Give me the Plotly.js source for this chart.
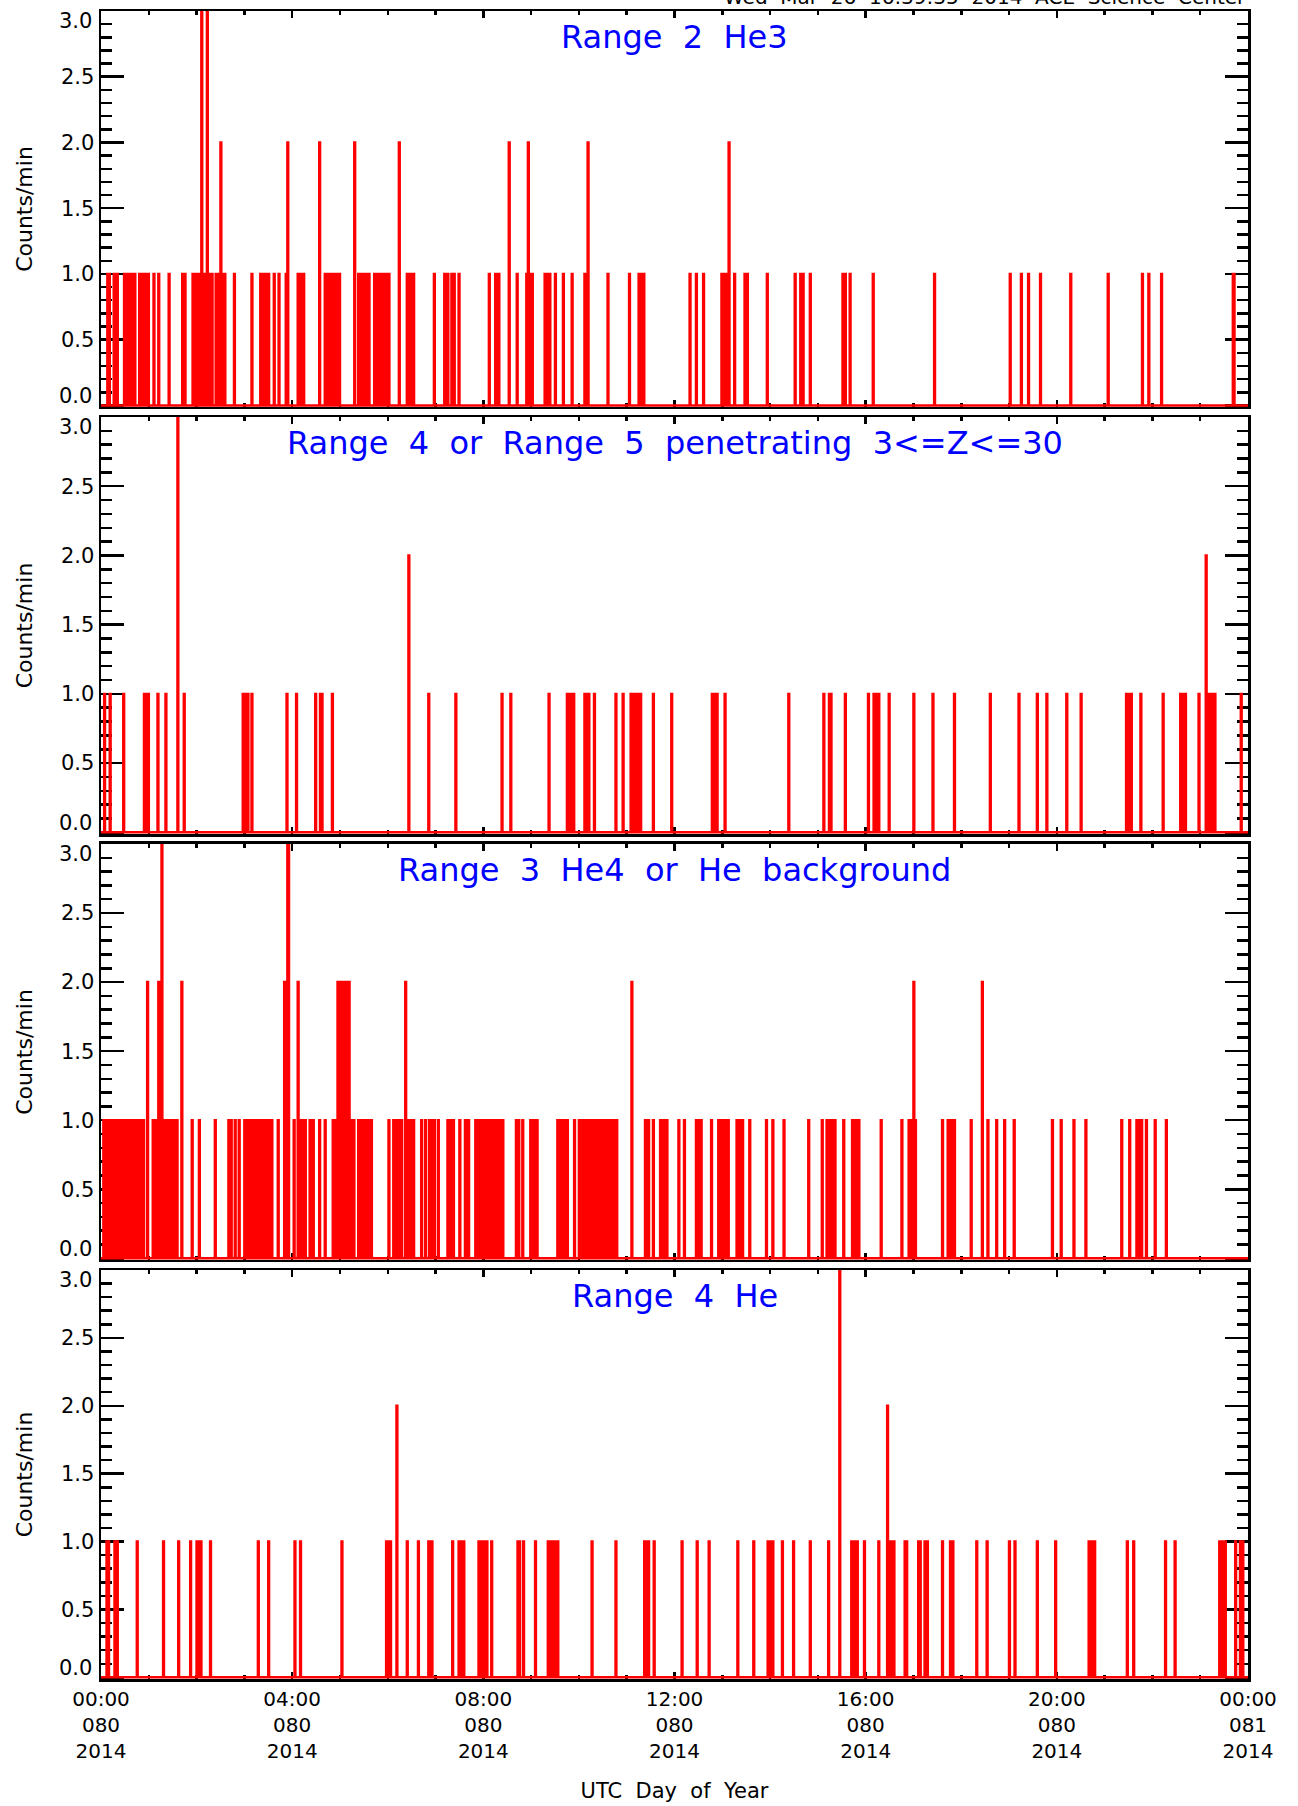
<!DOCTYPE html>
<html>
<head>
<meta charset="utf-8">
<script src="https://cdn.plot.ly/plotly-3.0.1.min.js"></script>
<style>html,body{margin:0;padding:0;background:#fff;}</style>
</head>
<body>
<div id="chart" style="width:1298px;height:1806px;"></div>
<script>
// ---------------- DATA (minute of UTC day 080, 2014; counts/min) ----------------
const panelTitles = [
  'Range\u00a0 2\u00a0 He3',
  'Range\u00a0 4\u00a0 or\u00a0 Range\u00a0 5\u00a0 penetrating\u00a0 3<=Z<=30',
  'Range\u00a0 3\u00a0 He4\u00a0 or\u00a0 He\u00a0 background',
  'Range\u00a0 4\u00a0 He'
];

// Range 2 He3
const he3Ones = [8,10,16,20,29,31,34,36,38,42,48,50,53,55,57,59,66,72,85,102,105,115,117,120,122,124,128,131,135,137,139,144,146,148,153,155,167,189,200,203,206,208,210,217,223,232,247,249,252,254,281,284,287,290,294,297,299,323,326,329,332,336,343,346,349,352,354,357,361,384,387,390,392,418,431,433,435,440,443,449,487,495,497,499,522,534,539,541,557,560,563,570,580,591,607,609,636,663,675,678,681,739,747,756,779,781,783,786,795,808,811,836,871,878,881,890,931,934,940,969,1046,1141,1155,1164,1179,1217,1264,1307,1315,1331,1421,1422];
const he3Twos = [150,234,274,318,374,512,536,611,788];
const he3Threes = [126,133];

// Range 4 or Range 5 penetrating 3<=Z<=30
const penOnes = [4,11,28,54,57,59,71,81,104,178,181,184,189,233,245,269,275,277,290,411,445,503,514,562,585,589,593,607,609,612,619,646,655,665,667,669,671,673,675,677,693,716,767,770,773,783,863,907,914,916,934,963,970,972,976,989,1020,1044,1071,1116,1152,1175,1187,1212,1230,1287,1290,1293,1305,1333,1355,1357,1361,1378,1390,1394,1398,1431];
const penTwos = [386,1387];
const penThrees = [96];

// Range 3 He4 or He background
const he4bgOnes = [3,5,7,9,11,13,15,17,19,21,23,25,27,30,32,34,36,38,41,43,45,47,49,51,53,65,67,70,74,79,81,83,85,87,89,91,95,114,123,143,160,163,168,173,180,182,184,186,188,190,192,194,196,198,200,202,204,206,208,210,212,214,222,242,250,253,256,262,266,274,281,291,293,295,313,315,317,323,327,331,335,339,361,367,371,374,377,385,388,392,402,407,412,415,418,423,435,438,442,450,457,461,470,473,476,479,482,485,487,490,493,496,498,500,502,504,521,524,529,539,541,543,545,547,573,575,577,579,581,583,585,594,600,602,604,606,608,610,612,614,617,620,622,625,628,630,633,636,638,641,644,647,683,687,693,702,704,706,708,710,725,732,747,749,751,753,766,775,777,779,781,783,785,787,798,800,802,805,814,835,843,857,888,905,911,913,915,917,919,921,932,943,946,948,951,979,1005,1014,1017,1022,1056,1063,1067,1071,1092,1113,1124,1134,1146,1194,1205,1221,1236,1281,1291,1300,1302,1306,1312,1323,1337];
const he4bgTwos = [58,72,101,230,247,297,299,301,303,305,307,309,311,382,666,1020,1106];
const he4bgThrees = [76,234,235];

// Range 4 He
const heOnes = [7,9,17,20,45,78,97,112,120,122,125,137,197,210,243,250,302,358,360,363,384,398,411,413,415,441,449,451,453,455,474,476,478,480,484,490,523,525,530,545,561,564,567,570,573,616,646,682,685,687,694,729,748,763,799,819,837,841,843,855,869,890,913,942,945,949,958,976,989,993,995,1009,1011,1026,1028,1034,1037,1056,1066,1069,1099,1112,1140,1147,1175,1198,1240,1242,1244,1247,1288,1296,1336,1348,1404,1406,1409,1411,1424,1430,1433];
const heTwos = [371,987];
const heThrees = [927];

// axis labels
const xTickVals = [0,240,480,720,960,1200,1440];
const timeLabels = ['00:00','04:00','08:00','12:00','16:00','20:00','00:00'];
const dayLabels = ['080','080','080','080','080','080','081'];
const yearLabels = ['2014','2014','2014','2014','2014','2014','2014'];
const yTickVals = [0,0.5,1,1.5,2,2.5,3];
const yTickText = ['','0.5','1.0','1.5','2.0','2.5',''];
const headerText = 'Wed\u00a0 Mar\u00a0 26\u00a0 16:39:35\u00a0 2014\u00a0 ACE\u00a0 Science\u00a0 Center';
const yTitle = 'Counts/min';
const xTitle = 'UTC\u00a0 Day\u00a0 of\u00a0 Year';

// ---------------- BUILD ----------------
const FONT = 'DejaVu Sans, sans-serif';
const RED = '#ff0000', BLUE = '#0000ff';

function buildPath(ones, twos, threes) {
  const ev = [];
  ones.forEach(t => ev.push([t, 1]));
  twos.forEach(t => ev.push([t, 2]));
  threes.forEach(t => ev.push([t, 3]));
  ev.sort((a, b) => a[0] - b[0]);
  const xs = [0], ys = [0];
  ev.forEach(([t, v]) => { xs.push(t, t, t + 1, t + 1); ys.push(0, v, v, 0); });
  xs.push(1440); ys.push(0);
  return {xs, ys};
}

const series = [
  [he3Ones, he3Twos, he3Threes],
  [penOnes, penTwos, penThrees],
  [he4bgOnes, he4bgTwos, he4bgThrees],
  [heOnes, heTwos, heThrees]
];

// plot area: x 101..1248, y 11..1679 px
const yDomains = [[0.76259, 1.0], [0.50659, 0.75659], [0.25120, 0.50060], [0.0, 0.24520]];

const traces = series.map((s, i) => {
  const p = buildPath(s[0], s[1], s[2]);
  const sfx = i === 0 ? '' : String(i + 1);
  return {type: 'scatter', mode: 'lines', x: p.xs, y: p.ys,
    xaxis: 'x' + sfx, yaxis: 'y' + sfx,
    line: {color: RED, width: 2.5}, hoverinfo: 'skip', showlegend: false};
});

const layout = {
  width: 1298, height: 1806,
  margin: {l: 101, r: 50, t: 11, b: 127},
  paper_bgcolor: '#fff', plot_bgcolor: '#fff',
  font: {family: FONT, color: '#000', size: 21},
  showlegend: false,
  annotations: []
};

const ticktextX = timeLabels.map((t, k) => t + '<br>' + dayLabels[k] + '<br>' + yearLabels[k]);

for (let i = 0; i < 4; i++) {
  const sfx = i === 0 ? '' : String(i + 1);
  layout['xaxis' + sfx] = {
    domain: [0, 1], anchor: 'y' + sfx, range: [0, 1440],
    showline: true, linecolor: '#000', linewidth: 2.5, mirror: 'ticks',
    ticks: 'inside', ticklen: 7, tickwidth: 2.5, tickcolor: '#000',
    tickmode: 'array', tickvals: xTickVals, ticktext: ticktextX, showticklabels: i === 3,
    tickfont: {size: 20, family: FONT, color: '#000'},
    minor: {tickmode: 'linear', tick0: 0, dtick: 60, ticks: 'inside', ticklen: 4, tickwidth: 2.5, tickcolor: '#000', showgrid: false},
    showgrid: false, zeroline: false, layer: 'below traces', fixedrange: true
  };
  if (i === 3) {
    layout['xaxis' + sfx].title = {text: xTitle, font: {size: 21, family: FONT, color: '#000'}, standoff: 22};
  }
  layout['yaxis' + sfx] = {
    domain: yDomains[i], anchor: 'x' + sfx, range: [-0.012, 3],
    showline: true, linecolor: '#000', linewidth: 2.5, mirror: 'ticks',
    ticks: 'inside', ticklen: 23, tickwidth: 2.5, tickcolor: '#000',
    tickmode: 'array', tickvals: yTickVals, ticktext: yTickText,
    tickfont: {size: 21, family: FONT, color: '#000'},
    minor: {tickmode: 'linear', tick0: 0, dtick: 0.1, ticks: 'inside', ticklen: 11, tickwidth: 2.5, tickcolor: '#000', showgrid: false},
    showgrid: false, zeroline: false, layer: 'below traces', fixedrange: true,
    title: {text: yTitle, font: {size: 22, family: FONT, color: '#000'}, standoff: 22}
  };
  // panel title
  layout.annotations.push({
    text: panelTitles[i], xref: 'x' + sfx + ' domain', yref: 'y' + sfx + ' domain',
    x: 0.5, y: 1, xanchor: 'center', yanchor: 'top', yshift: -5, showarrow: false,
    font: {size: 32, family: FONT, color: BLUE}
  });
  // end tick labels kept inside the panel
  layout.annotations.push({
    text: '0.0', xref: 'x' + sfx + ' domain', yref: 'y' + sfx, x: 0, y: 0,
    xanchor: 'right', yanchor: 'bottom', xshift: -7, yshift: -5, showarrow: false,
    font: {size: 21, family: FONT, color: '#000'}
  });
  layout.annotations.push({
    text: '3.0', xref: 'x' + sfx + ' domain', yref: 'y' + sfx, x: 0, y: 3,
    xanchor: 'right', yanchor: 'top', xshift: -7, yshift: 4, showarrow: false,
    font: {size: 21, family: FONT, color: '#000'}
  });
}

layout.annotations.push({
  text: headerText, xref: 'paper', yref: 'paper', x: 1, y: 1,
  xanchor: 'right', yanchor: 'bottom', showarrow: false,
  font: {size: 20, family: FONT, color: '#000'}
});

Plotly.newPlot('chart', traces, layout, {displayModeBar: false, staticPlot: true});
</script>
</body>
</html>
